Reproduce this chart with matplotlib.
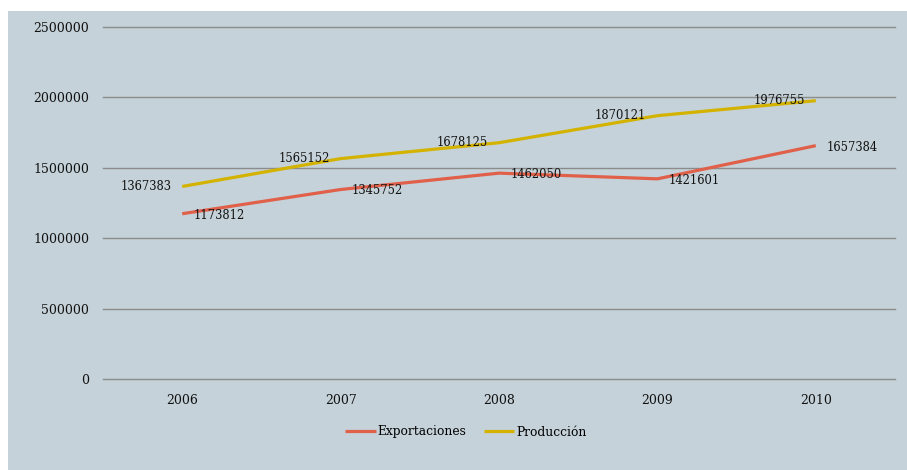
import matplotlib.pyplot as plt
from matplotlib.patches import Rectangle

years = ["2006", "2007", "2008", "2009", "2010"]
exportaciones = [1173812, 1345752, 1462050, 1421601, 1657384]
produccion = [1367383, 1565152, 1678125, 1870121, 1976755]
yticks = [0, 500000, 1000000, 1500000, 2000000, 2500000]

bg = "#c5d2d9"
red = "#e0604a"
gold = "#d4b300"
plt.rcParams["font.family"] = ["DejaVu Serif"]

fig = plt.figure(figsize=(9.07, 4.70), dpi=100)
# panel background, leaving a thin white margin at left and top
fig.patches.append(Rectangle((8 / 907, 0), 1, 1 - 11 / 470, transform=fig.transFigure,
                             facecolor=bg, edgecolor="none", zorder=-1))

ax = fig.add_axes([103 / 907, 1 - 379 / 470, 792 / 907, 352 / 470])
ax.set_facecolor("none")
x = list(range(len(years)))

for v in yticks:
    ax.axhline(v, color="#8c8c8c", lw=1.0, zorder=1, clip_on=False)

ax.plot(x, exportaciones, color=red, lw=2.3, solid_capstyle="butt", label="Exportaciones", zorder=3)
ax.plot(x, produccion, color=gold, lw=2.3, solid_capstyle="butt", label="Producción", zorder=3)

for xi, v in zip(x, exportaciones):
    ax.annotate(str(v), (xi, v), xytext=(8, -1), textcoords="offset points",
                ha="left", va="center", fontsize=8.3, color="#111111", zorder=4)
for xi, v in zip(x, produccion):
    ax.annotate(str(v), (xi, v), xytext=(-8, 0), textcoords="offset points",
                ha="right", va="center", fontsize=8.3, color="#111111", zorder=4)

ax.set_xlim(-0.5, len(years) - 0.5)
ax.set_ylim(0, 2500000)
ax.set_xticks(x)
ax.set_xticklabels(years)
ax.set_yticks(yticks)
ax.set_yticklabels([str(v) for v in yticks])
ax.tick_params(axis="both", length=0, labelsize=9, colors="#111111")
ax.tick_params(axis="y", pad=10)
ax.tick_params(axis="x", pad=11)
for s in ax.spines.values():
    s.set_visible(False)

fig.legend(loc="center", bbox_to_anchor=(466 / 907, 1 - 432 / 470), ncol=2, frameon=False,
           fontsize=8.8, handlelength=2.5, handletextpad=0.15, columnspacing=1.4)

fig.savefig("out.png", dpi=100)
